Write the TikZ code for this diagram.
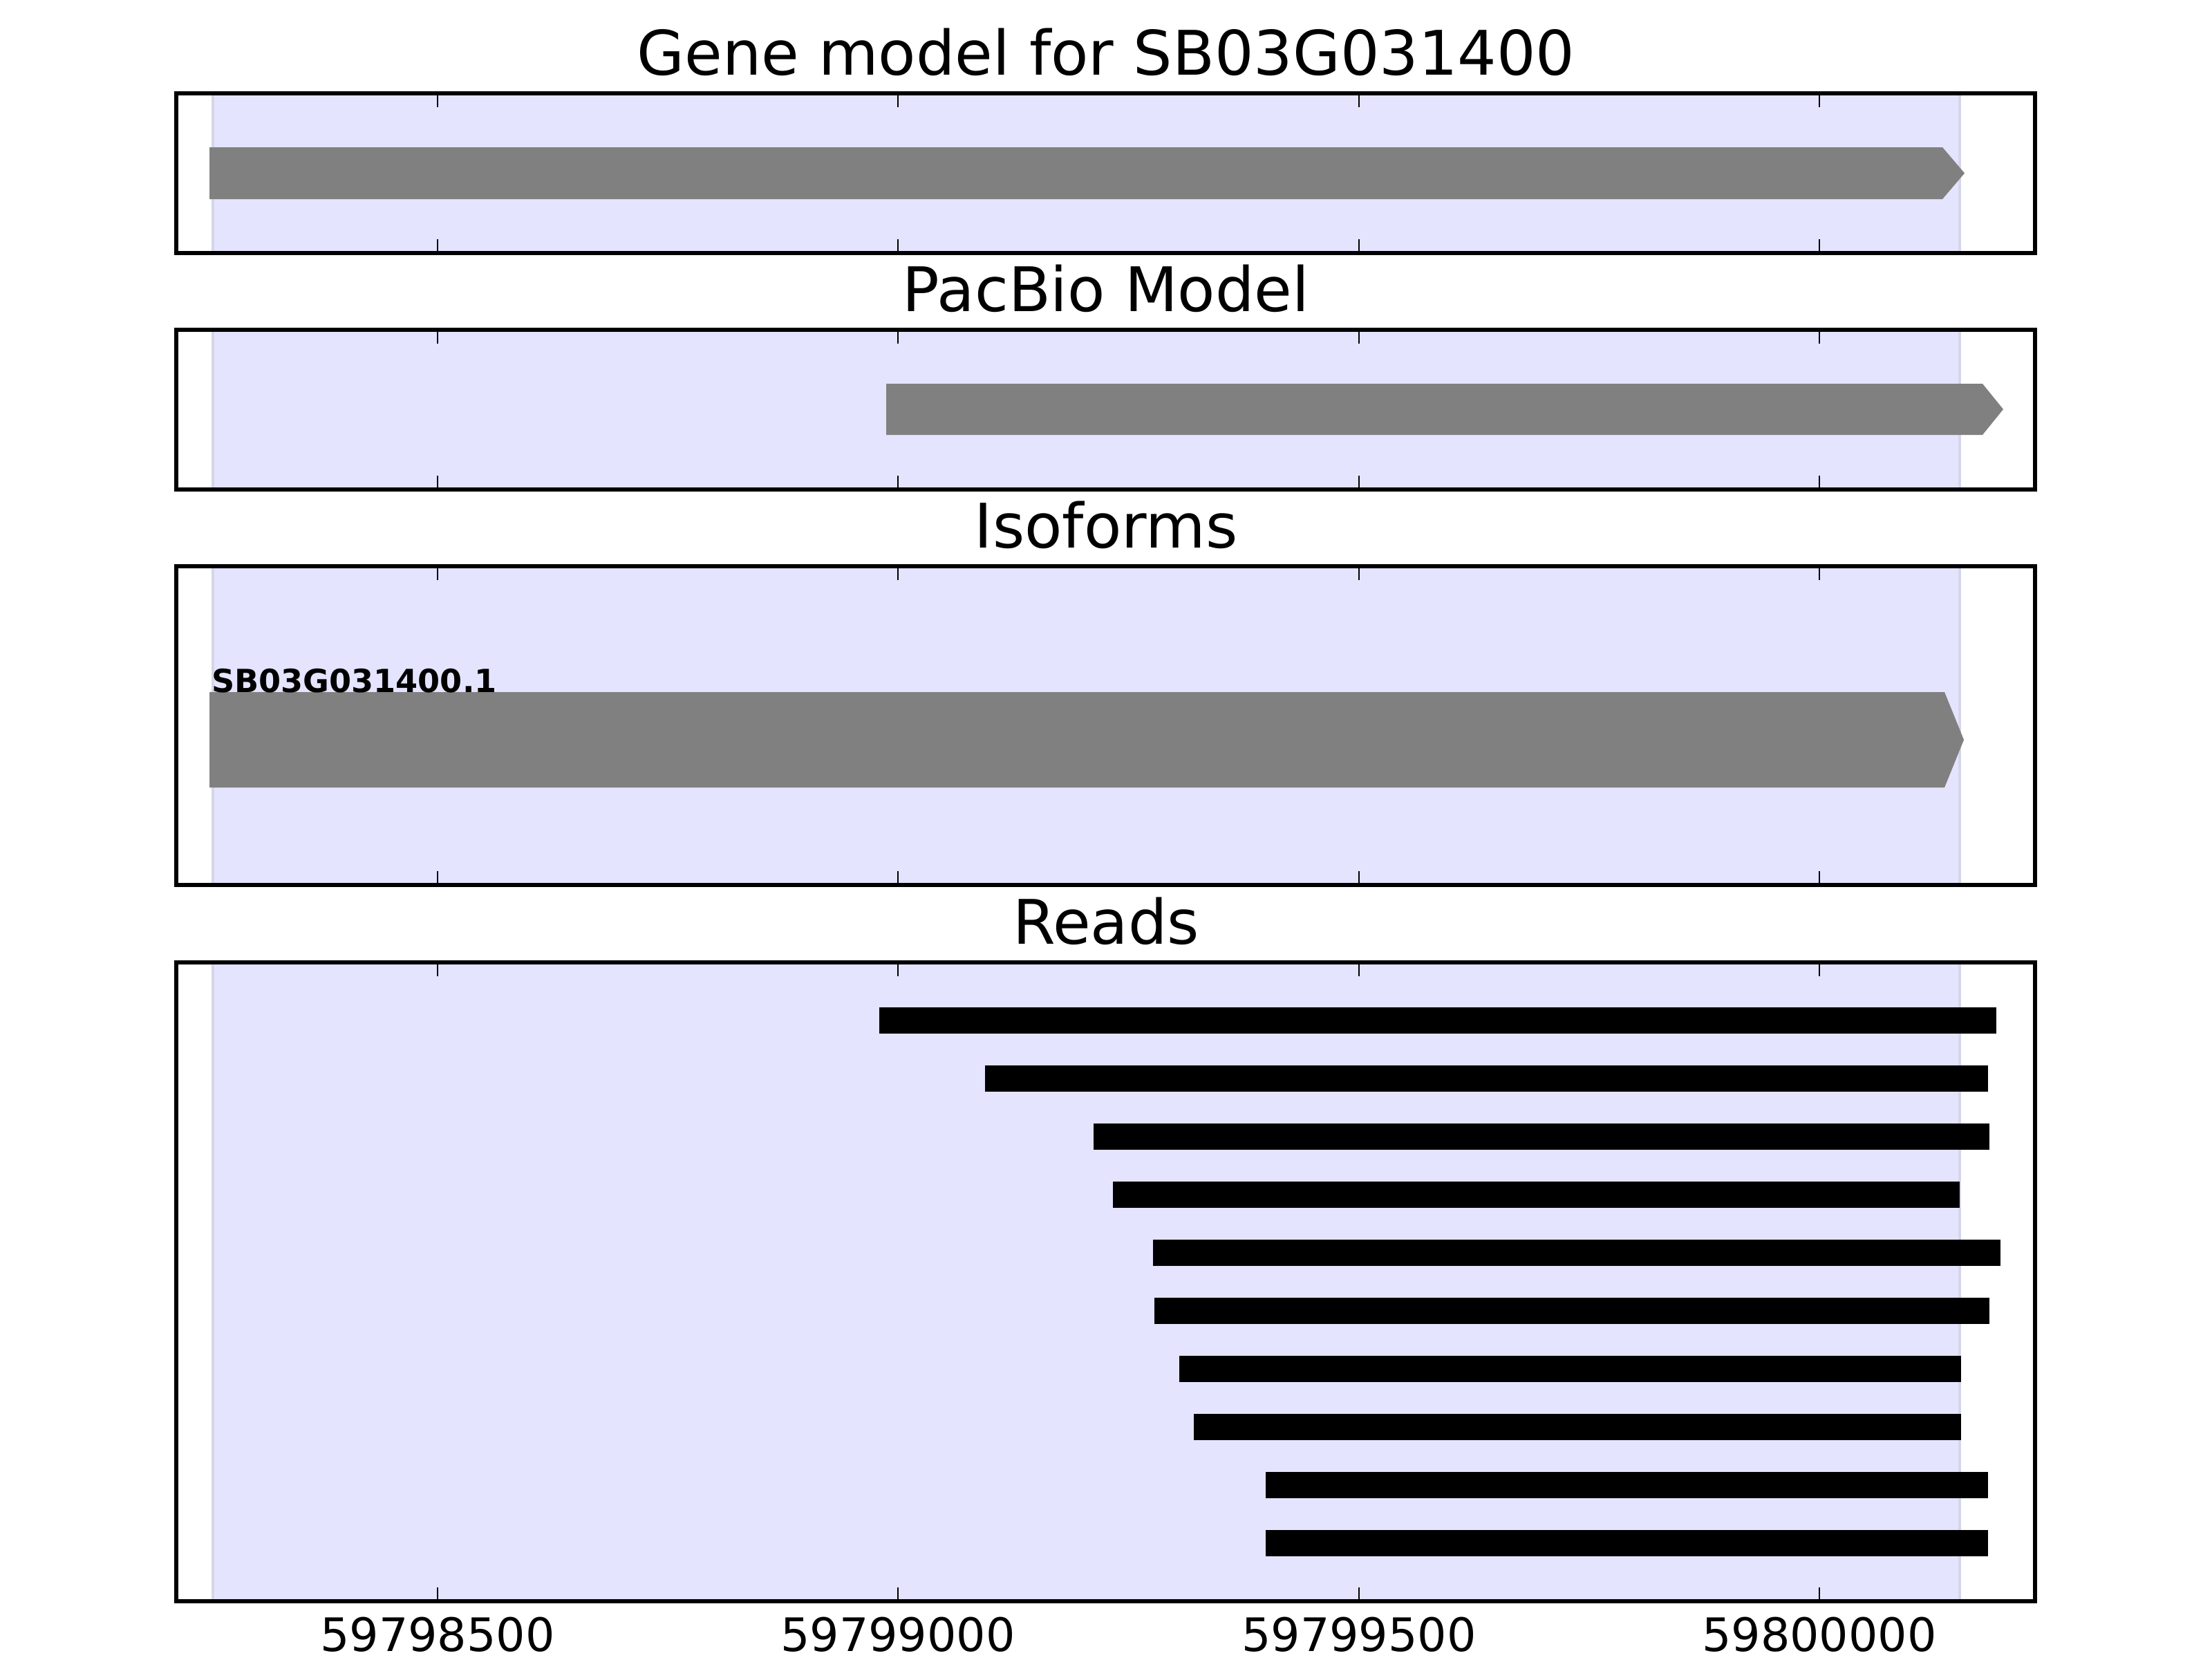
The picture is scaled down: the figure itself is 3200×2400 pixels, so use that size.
\documentclass[tikz,border=0pt]{standalone}
\usepackage{fontspec}
\setmainfont{DejaVu Sans}
\definecolor{spanblue}{RGB}{228,228,254}
\definecolor{spanedge}{RGB}{214,214,234}
\definecolor{genegray}{RGB}{128,128,128}
\begin{document}
\begin{tikzpicture}[x=0.18pt,y=-0.18pt,
  paneltitle/.style={font=\fontsize{16}{19}\selectfont,anchor=base,inner sep=0pt},
  ticklabel/.style={font=\fontsize{12}{14}\selectfont,anchor=base,inner sep=0pt},
  framebox/.style={draw=black,line width=1pt},
  tickmark/.style={draw=black,line width=0.5pt},
  gene/.style={fill=genegray,draw=none},
  readbar/.style={fill=black,draw=none}]
\useasboundingbox (0,0) rectangle (3200,2400);
% shaded gene span and title of every panel
\foreach \t/\b/\name/\txt in {135/366/gm/Gene model for SB03G031400,477/708/pb/PacBio Model,819/1280/iso/Isoforms,1392/2316/rd/Reads} {
  \fill[spanblue] (308,\t) rectangle (2835,\b);
  \draw[spanedge,line width=0.6pt] (308,\t) -- (308,\b) (2835,\t) -- (2835,\b);
  \node[paneltitle] (\name) at (1600,\t-27) {\txt};
}
% gene model, pacbio model, isoform
\fill[gene] (303,213) -- (2810,213) -- (2842,250.5) -- (2810,288) -- (303,288) -- cycle;
\fill[gene] (1282,555) -- (2868,555) -- (2898,592) -- (2868,629) -- (1282,629) -- cycle;
\fill[gene] (303,1001) -- (2813,1001) -- (2841,1070) -- (2813,1139) -- (303,1139) -- cycle;
\node[font=\fontsize{8.3}{10}\selectfont\bfseries,anchor=base west,inner sep=0pt] (isolab) at (305,1001) {SB03G031400.1};
% reads
\foreach \i/\l/\r in {0/1272/2888,1/1425/2876,2/1582/2878,3/1610/2835,4/1668/2894,5/1670/2878,6/1706/2837,7/1727/2837,8/1831/2876,9/1831/2876} {
  \pgfmathsetmacro{\yc}{1476+84*\i}
  \fill[readbar] (\l,\yc-19) rectangle (\r,\yc+19);
}
% frames and ticks
\foreach \t/\b in {135/366,477/708,819/1280,1392/2316} {
  \draw[framebox] (255,\t) rectangle (2944,\b);
  \foreach \x in {633,1299,1966,2632}
    \draw[tickmark] (\x,\t) -- (\x,\t+20) (\x,\b) -- (\x,\b-20);
}
\foreach \x/\lab/\name in {633/59798500/xa,1299/59799000/xb,1966/59799500/xc,2632/59800000/xd}
  \node[ticklabel] (\name) at (\x,2388) {\lab};
\end{tikzpicture}
\end{document}
